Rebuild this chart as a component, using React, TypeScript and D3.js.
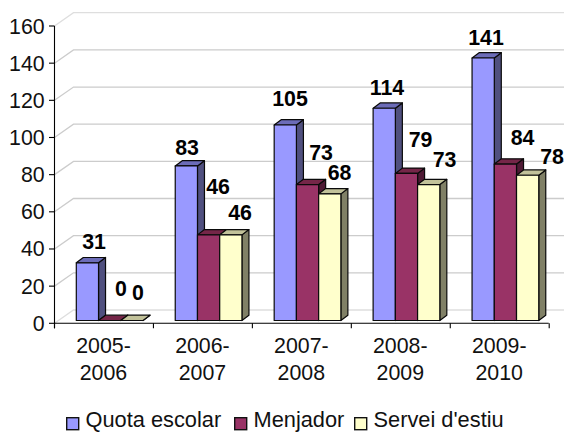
import React from "react";
import * as d3 from "d3";

const W = 564;
const H = 432;
const categories = ["2005-2006", "2006-2007", "2007-2008", "2008-2009", "2009-2010"];
const seriesNames = ["Quota escolar", "Menjador", "Servei d'estiu"];
const quota = [31, 83, 105, 114, 141];
const menjador = [0, 46, 73, 79, 84];
const servei = [0, 46, 68, 73, 78];
const yTicks = [0, 20, 40, 60, 80, 100, 120, 140, 160];

const fills = ["#9999FF", "#993366", "#FFFFCC"];
const tops = ["#6C6CB8", "#752648", "#C2C29A"];
const sides = ["#50507F", "#4F1A35", "#808066"];

// label anchor points, placed by the original chart's renderer: [center x, baseline y]
const labelSpots = [
  [[94, 249], [187, 154.5], [290, 105.5], [387, 94.5], [486, 44.5]],
  [[121, 295.5], [218, 194], [321, 159.5], [420.5, 147], [522.5, 145]],
  [[138, 299.5], [240, 219.5], [339.5, 179.5], [444.5, 167], [552, 164]],
];
const legendSpots = [66, 234, 354];

const FONT = "'Liberation Sans', Arial, sans-serif";
const DX = 7;
const DY = 5.3;
const WALL_DX = 19;
const WALL_DY = 13.3;
const FS = 21.33;

export default function App() {
  const values = [quota, menjador, servei];
  const yAxis = d3.scaleLinear().domain([0, 160]).range([323.3, 26]);
  const yBar = d3.scaleLinear().domain([0, 160]).range([320.5, 22.6]);
  const x0 = d3.scaleBand<string>().domain(categories).range([54, 548.7]);
  const x1 = d3.scaleBand<string>().domain(seriesNames).range([22.3, 89]);

  return (
    <svg
      width={W}
      height={H}
      viewBox={`0 0 ${W} ${H}`}
      style={{ position: "absolute", left: 0, top: 0, background: "#fff" }}
      fontFamily={FONT}
    >
      {yTicks.map((t) => {
        const y = yAxis(t);
        const top = t === 160 || t === 0;
        return (
          <g key={t}>
            <path
              d={`M54.5 ${y}L${54.5 + WALL_DX} ${y - WALL_DY}H${W}`}
              fill="none"
              stroke={top ? "#DEDEDE" : "#CCCCCC"}
              strokeWidth={1.3}
            />
            <line x1={49} x2={54.5} y1={y} y2={y} stroke="#000" strokeWidth={1.1} />
            <text x={44.7} y={y + 7.5} textAnchor="end" fontSize={FS} fill="#111">
              {t}
            </text>
          </g>
        );
      })}

      <line x1={54.5} x2={54.5} y1={yAxis(160)} y2={yAxis(0) + 5} stroke="#000" strokeWidth={1.1} />
      <line x1={54} x2={x0.range()[1]} y1={yAxis(0)} y2={yAxis(0)} stroke="#000" strokeWidth={1.1} />
      {[...categories.map((c) => x0(c)!), x0.range()[1]].map((x, i) => (
        <line key={i} x1={x + 0.5} x2={x + 0.5} y1={yAxis(0)} y2={yAxis(0) + 5} stroke="#000" strokeWidth={1.1} />
      ))}

      {categories.map((c, ci) => (
        <g key={c}>
          {seriesNames.map((s, si) => {
            const v = values[si][ci];
            const x = x0(c)! + x1(s)!;
            const w = x1.bandwidth();
            const y = yBar(v);
            const b = yBar(0);
            return (
              <g key={s} stroke="#0A0A0A" strokeWidth={1.2} strokeLinejoin="round">
                <path d={`M${x + w} ${y}l${DX} ${-DY}V${b - DY}l${-DX} ${DY}Z`} fill={sides[si]} />
                <path d={`M${x} ${y}l${DX} ${-DY}h${w}l${-DX} ${DY}Z`} fill={tops[si]} />
                {v > 0 && <rect x={x} y={y} width={w} height={b - y} fill={fills[si]} />}
              </g>
            );
          })}
        </g>
      ))}

      {categories.map((c, ci) =>
        seriesNames.map((s, si) => {
          const [lx, ly] = labelSpots[si][ci];
          return (
            <text key={c + s} x={lx} y={ly} textAnchor="middle" fontSize={FS} fontWeight="bold" fill="#000">
              {values[si][ci]}
            </text>
          );
        })
      )}

      {categories.map((c) => {
        const [a, b] = c.split("-");
        const cx = x0(c)! + x0.bandwidth() / 2;
        return (
          <text key={c} textAnchor="middle" fontSize={FS} fill="#111">
            <tspan x={cx} y={353}>{a}-</tspan>
            <tspan x={cx} y={380}>{b}</tspan>
          </text>
        );
      })}

      {seriesNames.map((s, i) => (
        <g key={s}>
          <rect x={legendSpots[i] + 0.7} y={417.7} width={12} height={12} fill={fills[i]} stroke="#111" strokeWidth={1.4} />
          <text x={legendSpots[i] + 19.5} y={427.4} fontSize={21.8} fill="#111">
            {s}
          </text>
        </g>
      ))}
    </svg>
  );
}
